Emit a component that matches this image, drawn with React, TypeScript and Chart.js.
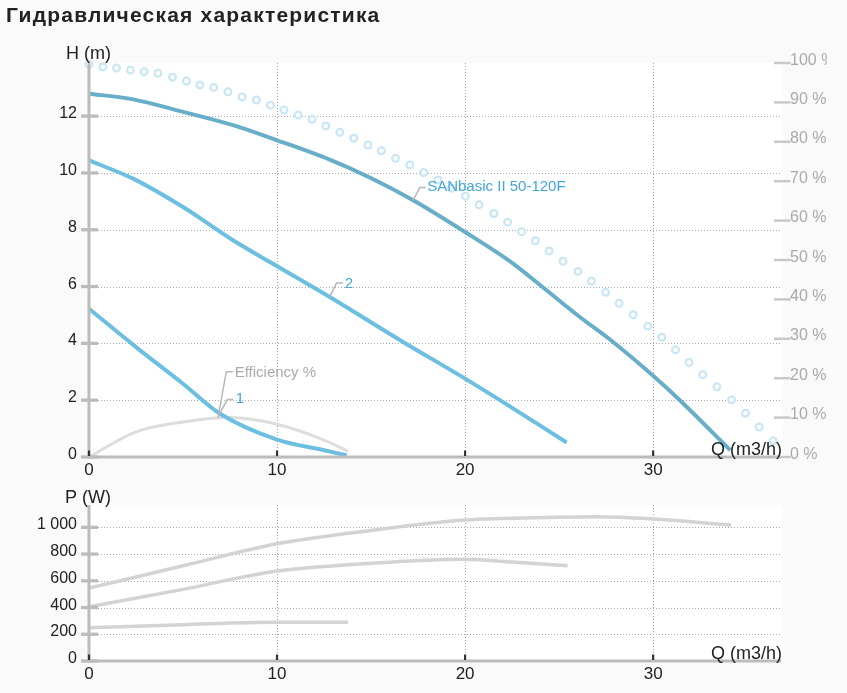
import React, { useEffect, useRef } from "react";
import { Chart, registerables } from "chart.js";

Chart.register(...registerables);

const FONT = '"Liberation Sans", Arial, Helvetica, sans-serif';

// ---------- Data: hydraulic chart (H, m) ----------
const mainQ = [0, 2.34, 5, 7.66, 10, 12.8, 14.93, 17.24, 20, 22.55, 24.33, 26.1, 27.87, 30, 31.42, 34.1];
const mainH = [12.79, 12.59, 12.15, 11.68, 11.15, 10.47, 9.84, 9.04, 7.92, 6.81, 5.87, 4.93, 4.05, 2.86, 2.0, 0.24];

const curve2Q = [0, 2.34, 5, 7.66, 9.6, 12.8, 16.7, 20, 22, 25.4];
const curve2H = [10.44, 9.8, 8.8, 7.63, 6.87, 5.63, 4.05, 2.76, 1.94, 0.51];

const curve1Q = [0, 2.5, 5, 6.95, 10, 12.5, 13.7];
const curve1H = [5.22, 3.87, 2.58, 1.53, 0.61, 0.24, 0.06];

// Efficiency (%, right axis)
const effQ = [0, 2.5, 5, 7.5, 10, 12.5, 13.77];
const effPct = [0, 6.4, 8.9, 10.0, 8.3, 4.3, 1.5];

// Dotted curve (%, right axis)
const dotQ = [0, 0.74, 1.46, 2.2, 2.93, 3.67, 4.44, 5.18, 5.89, 6.63, 7.39, 8.14, 8.9, 9.65, 10.37, 11.12, 11.86, 12.59, 13.34, 14.08, 14.83, 15.55, 16.3, 17.06, 17.8, 18.56, 19.28, 20.02, 20.74, 21.53, 22.26, 23.0, 23.74, 24.47, 25.21, 26.0, 26.72, 27.47, 28.19, 28.94, 29.72, 30.46, 31.19, 31.91, 32.64, 33.39, 34.17, 34.91, 35.64, 36.38];
const dotPct = [99.7, 99.0, 98.7, 98.2, 97.8, 97.4, 96.4, 95.4, 94.4, 93.8, 92.7, 91.4, 90.6, 89.3, 88.1, 86.8, 85.7, 84.0, 82.4, 80.9, 79.2, 77.7, 75.8, 74.1, 72.2, 70.3, 68.2, 66.2, 64.0, 61.8, 59.6, 57.2, 54.9, 52.3, 49.7, 47.1, 44.6, 41.8, 39.0, 36.1, 33.2, 30.4, 27.2, 24.0, 20.9, 17.8, 14.5, 11.1, 7.6, 4.1];

// ---------- Data: power chart (P, W) ----------
const p1Q = [0, 5, 10, 15, 20, 25, 27, 30, 34.15];
const p1W = [545, 712, 877, 977, 1054, 1075, 1079, 1062, 1017];
const p2Q = [0, 5, 10, 15, 20, 22.5, 25.45];
const p2W = [406, 536, 673, 731, 761, 740, 713];
const p3Q = [0, 5, 10, 13.77];
const p3W = [249, 272, 289, 289];

// ---------- Ticks ----------
const qTicks = [0, 10, 20, 30];
const qTickLabels = ["0", "10", "20", "30"];
const hTicks = [0, 2, 4, 6, 8, 10, 12];
const hTickLabels = ["0", "2", "4", "6", "8", "10", "12"];
const pctTicks = [0, 10, 20, 30, 40, 50, 60, 70, 80, 90, 100];
const pctTickLabels = ["0 %", "10 %", "20 %", "30 %", "40 %", "50 %", "60 %", "70 %", "80 %", "90 %", "100 %"];
const pTicks = [0, 200, 400, 600, 800, 1000];
const pTickLabels = ["0", "200", "400", "600", "800", "1 000"];

const Q_MAX = 36.8;
const H_MAX = 13.87;
const P_MAX = 1167;

const zip = (xs: number[], ys: number[]) => xs.map((x, i) => ({ x, y: ys[i] }));

type Note = {
  text: string;
  q: number;
  v: number;
  axis: string;
  color: string;
  elbow: [number, number];
  end: [number, number];
  txt: [number, number];
};

type AxisCfg = {
  yTicks: number[];
  yLabels: string[];
  rTicks?: number[];
  rLabels?: string[];
  yTitle: string;
  yTitleXY: [number, number];
  notes?: Note[];
};

function line(ctx: CanvasRenderingContext2D, x1: number, y1: number, x2: number, y2: number) {
  ctx.beginPath();
  ctx.moveTo(x1, y1);
  ctx.lineTo(x2, y2);
  ctx.stroke();
}

function axesPlugin(cfg: AxisCfg) {
  return {
    id: "customAxes",
    beforeDraw(chart: any) {
      const { ctx, chartArea: a } = chart;
      const xs = chart.scales.x;
      const ys = chart.scales.y;
      ctx.save();
      ctx.fillStyle = "#fafafa";
      ctx.fillRect(0, 0, chart.width, chart.height);
      ctx.fillStyle = "#ffffff";
      ctx.fillRect(a.left, a.top, a.right - a.left + 2, a.bottom - a.top);
      ctx.strokeStyle = "#a9a9a9";
      ctx.lineWidth = 1;
      ctx.setLineDash([1, 2]);
      qTicks.forEach((v) => {
        if (v === 0) return;
        const px = Math.round(xs.getPixelForValue(v)) + 0.5;
        line(ctx, px, a.top, px, a.bottom);
      });
      cfg.yTicks.forEach((v) => {
        if (v === 0) return;
        const py = Math.round(ys.getPixelForValue(v)) + 0.5;
        line(ctx, a.left, py, a.right, py);
      });
      ctx.restore();
    },
    afterDatasetsDraw(chart: any) {
      const { ctx, chartArea: a } = chart;
      const xs = chart.scales.x;
      const ys = chart.scales.y;
      ctx.save();
      ctx.setLineDash([]);
      ctx.lineCap = "butt";
      // axis lines
      ctx.strokeStyle = "#bcbcbc";
      ctx.lineWidth = 3;
      line(ctx, a.left, a.top, a.left, a.bottom + 1.5);
      line(ctx, a.left, a.bottom, a.right, a.bottom);
      // left tick marks
      ctx.lineWidth = 3.3;
      cfg.yTicks.forEach((v) => {
        const py = ys.getPixelForValue(v);
        line(ctx, a.left - 8, py, a.left + 9, py);
      });
      // x ticks (dark, inside)
      ctx.strokeStyle = "#333333";
      ctx.lineWidth = 2.2;
      qTicks.forEach((v) => {
        const px = xs.getPixelForValue(v);
        line(ctx, px, a.bottom - 6.5, px, a.bottom - 1);
      });
      // right axis
      if (cfg.rTicks && cfg.rLabels) {
        const rs = chart.scales.y2;
        ctx.strokeStyle = "#c8c8c8";
        ctx.lineWidth = 2.5;
        cfg.rTicks.forEach((v) => {
          const py = rs.getPixelForValue(v);
          line(ctx, a.right - 7, py, a.right + 9.5, py);
        });
        ctx.save();
        ctx.beginPath();
        ctx.rect(0, 0, 827, chart.height);
        ctx.clip();
        ctx.fillStyle = "#aaaaaa";
        ctx.font = `16px ${FONT}`;
        ctx.textAlign = "left";
        ctx.textBaseline = "alphabetic";
        cfg.rTicks.forEach((v, i) => {
          const py = rs.getPixelForValue(v);
          ctx.fillText(cfg.rLabels![i], a.right + 9, py + 1.5);
        });
        ctx.restore();
      }
      // left tick labels
      ctx.fillStyle = "#222222";
      ctx.font = `16px ${FONT}`;
      ctx.textAlign = "right";
      ctx.textBaseline = "alphabetic";
      cfg.yTicks.forEach((v, i) => {
        const py = ys.getPixelForValue(v);
        ctx.fillText(cfg.yLabels[i], a.left - 12, py + 2);
      });
      // x tick labels
      ctx.font = `17px ${FONT}`;
      ctx.textAlign = "center";
      qTicks.forEach((v, i) => {
        const px = xs.getPixelForValue(v);
        ctx.fillText(qTickLabels[i], px, a.bottom + 18);
      });
      // titles
      ctx.font = `18px ${FONT}`;
      ctx.textAlign = "left";
      ctx.fillText(cfg.yTitle, cfg.yTitleXY[0], cfg.yTitleXY[1]);
      ctx.textAlign = "right";
      ctx.fillText("Q (m3/h)", a.right + 1, a.bottom - 2.5);
      // notes
      (cfg.notes || []).forEach((n) => {
        const sc = chart.scales[n.axis];
        const ax = xs.getPixelForValue(n.q);
        const ay = sc.getPixelForValue(n.v);
        ctx.strokeStyle = "#b8b8b8";
        ctx.lineWidth = 1.5;
        ctx.beginPath();
        ctx.moveTo(ax, ay);
        ctx.lineTo(ax + n.elbow[0], ay + n.elbow[1]);
        ctx.lineTo(ax + n.end[0], ay + n.end[1]);
        ctx.stroke();
        ctx.fillStyle = n.color;
        ctx.font = `15px ${FONT}`;
        ctx.textAlign = "left";
        ctx.fillText(n.text, ax + n.txt[0], ay + n.txt[1]);
      });
      ctx.restore();
    },
  };
}

const lineDs = (label: string, data: any[], color: string, width: number, axis = "y") => ({
  label,
  data,
  borderColor: color,
  backgroundColor: color,
  borderWidth: width,
  pointRadius: 0,
  fill: false,
  cubicInterpolationMode: "monotone" as const,
  yAxisID: axis,
  borderCapStyle: "butt" as const,
});

const BLUE_DARK = "#68aec9";
const BLUE = "#6cbfe1";
const BLUE_TEXT = "#45a6da";

const topNotes: Note[] = [
  { text: "SANbasic II 50-120F", q: 17.24, v: 9.04, axis: "y", color: BLUE_TEXT, elbow: [6.7, -12.7], end: [12.4, -12.7], txt: [14, -9] },
  { text: "2", q: 12.8, v: 5.63, axis: "y", color: BLUE_TEXT, elbow: [6.7, -14], end: [13.3, -14], txt: [15, -9.4] },
  { text: "1", q: 6.95, v: 1.53, axis: "y", color: BLUE_TEXT, elbow: [7.7, -14], end: [13.3, -14], txt: [16, -11] },
  { text: "Efficiency %", q: 6.86, v: 9.9, axis: "y2", color: "#aaaaaa", elbow: [8.3, -46.3], end: [15, -46.3], txt: [16.7, -41.3] },
];

export default function App() {
  const topRef = useRef<HTMLCanvasElement | null>(null);
  const botRef = useRef<HTMLCanvasElement | null>(null);

  useEffect(() => {
    const common = {
      responsive: false,
      maintainAspectRatio: false,
      animation: false as const,
      events: [] as any[],
      plugins: { legend: { display: false }, tooltip: { enabled: false } },
    };

    const top = new Chart(topRef.current!, {
      type: "line",
      data: {
        datasets: [
          lineDs("SANbasic II 50-120F", zip(mainQ, mainH), BLUE_DARK, 4),
          lineDs("2", zip(curve2Q, curve2H), BLUE, 4),
          lineDs("1", zip(curve1Q, curve1H), BLUE, 4),
          lineDs("Efficiency %", zip(effQ, effPct), "#dddddd", 3, "y2"),
          {
            label: "dots",
            data: zip(dotQ, dotPct),
            showLine: false,
            yAxisID: "y2",
            pointRadius: 3.4,
            pointBorderWidth: 2.2,
            pointBorderColor: "#c9e6f5",
            pointBackgroundColor: "#ffffff",
            borderColor: "#c9e6f5",
            clip: false,
          } as any,
        ],
      },
      options: {
        ...common,
        layout: { padding: { left: 89, right: 66, top: 63, bottom: 25 } },
        scales: {
          x: { type: "linear", min: 0, max: Q_MAX, display: false },
          y: { type: "linear", min: 0, max: H_MAX, display: false },
          y2: { type: "linear", min: 0, max: 100, display: false, position: "right" },
        },
      } as any,
      plugins: [
        axesPlugin({
          yTicks: hTicks,
          yLabels: hTickLabels,
          rTicks: pctTicks,
          rLabels: pctTickLabels,
          yTitle: "H (m)",
          yTitleXY: [66, 59.3],
          notes: topNotes,
        }),
      ],
    });

    const bot = new Chart(botRef.current!, {
      type: "line",
      data: {
        datasets: [
          lineDs("P1", zip(p1Q, p1W), "#d3d3d3", 3.5),
          lineDs("P2", zip(p2Q, p2W), "#d3d3d3", 3.5),
          lineDs("P3", zip(p3Q, p3W), "#d3d3d3", 3.5),
        ],
      },
      options: {
        ...common,
        layout: { padding: { left: 89, right: 66, top: 23, bottom: 32 } },
        scales: {
          x: { type: "linear", min: 0, max: Q_MAX, display: false },
          y: { type: "linear", min: 0, max: P_MAX, display: false },
        },
      } as any,
      plugins: [
        axesPlugin({
          yTicks: pTicks,
          yLabels: pTickLabels,
          yTitle: "P (W)",
          yTitleXY: [65, 21.3],
        }),
      ],
    });

    return () => {
      top.destroy();
      bot.destroy();
    };
  }, []);

  return (
    <div
      style={{
        position: "fixed",
        left: 0,
        top: 0,
        width: 847,
        height: 693,
        background: "#fafafa",
        overflow: "hidden",
      }}
    >
      <canvas
        ref={topRef}
        width={847}
        height={482}
        style={{ position: "absolute", left: 0, top: 0, width: 847, height: 482 }}
      />
      <canvas
        ref={botRef}
        width={847}
        height={211}
        style={{ position: "absolute", left: 0, top: 482, width: 847, height: 211 }}
      />
      <div
        style={{
          position: "absolute",
          left: 6,
          top: 3.4,
          fontFamily: FONT,
          fontWeight: "bold",
          fontSize: 21,
          lineHeight: "24px",
          letterSpacing: "1.2px",
          color: "#222222",
          whiteSpace: "nowrap",
        }}
      >
        Гидравлическая характеристика
      </div>
    </div>
  );
}
